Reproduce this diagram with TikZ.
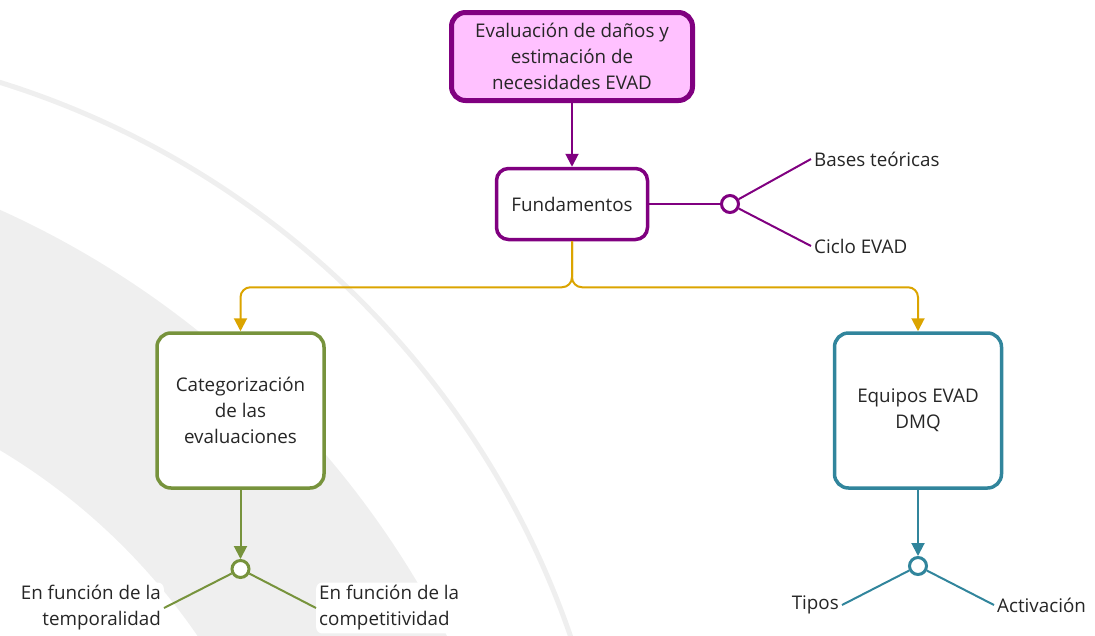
\documentclass[tikz,border=0pt]{standalone}
\usepackage{fontspec}
\setmainfont{Open Sans}
\usetikzlibrary{arrows.meta,positioning}
\definecolor{evadpurple}{HTML}{800080}
\definecolor{evadpink}{HTML}{FFC1FF}
\definecolor{linkgold}{HTML}{DBA400}
\definecolor{catgreen}{HTML}{77933C}
\definecolor{teamteal}{HTML}{31859C}
\definecolor{bandgrey}{HTML}{EFEFEF}
\definecolor{inkgrey}{HTML}{262626}

\begin{document}
\begin{tikzpicture}[x=1pt,y=-1pt,
  font=\fontsize{18.8}{26}\selectfont, text=inkgrey,
  box/.style={draw,rounded corners=14pt,line width=3.5pt,fill=white,align=center,inner sep=0pt},
  hub/.style={draw,circle,line width=3pt,fill=white,minimum size=17pt,inner sep=0pt},
  leaf/.style={fill=white,rounded corners=6pt,inner sep=3pt},
  link/.style={line width=2pt},
  tip/.style={-{Triangle[length=13pt,width=13pt]},line width=2pt}
]
\useasboundingbox (0,0) rectangle (1095,635);
% background band and arc
\begin{scope}
  \clip (0,0) rectangle (1095,635);
  \fill[bandgrey,even odd rule] (-382,1058) circle[radius=930pt] (-324,993) circle[radius=632pt];
  \draw[bandgrey,line width=5pt] (-261,922) circle[radius=879pt];
\end{scope}

\node[box,line width=5pt,draw=evadpurple,fill=evadpink,minimum width=241pt,minimum height=88pt] (evad) at (572,56.5) {Evaluación de daños y\\estimación de\\necesidades EVAD};
\node[box,rounded corners=12pt,draw=evadpurple,minimum width=151pt,minimum height=71pt] (fund) at (572,204) {Fundamentos};
\node[box,draw=catgreen,minimum width=167pt,minimum height=155pt] (cat) at (240.5,410.5) {Categorización\\de las\\evaluaciones};
\node[box,draw=teamteal,minimum width=167pt,minimum height=155pt] (team) at (918,410.5) {Equipos EVAD\\DMQ};

\node[hub,draw=evadpurple] (fundhub) at (730,204) {};
\node[hub,draw=catgreen] (cathub) at (240.5,569) {};
\node[hub,draw=teamteal] (teamhub) at (918,566) {};

\node[leaf,anchor=west] (bases) at (811,159) {Bases teóricas};
\node[leaf,anchor=west] (ciclo) at (811,246) {Ciclo EVAD};
\node[leaf,anchor=east,align=right] (tempo) at (164,608) {En función de la\\temporalidad};
\node[leaf,anchor=west,align=left] (compet) at (316,608) {En función de la\\competitividad};
\node[leaf,anchor=east] (tipos) at (842,605) {Tipos};
\node[leaf,anchor=west] (activ) at (994,605) {Activación};

\draw[tip,evadpurple] (evad) -- (fund);
\draw[link,evadpurple] (fund) -- (fundhub);
\draw[link,evadpurple] (fundhub) -- (bases.west);
\draw[link,evadpurple] (fundhub) -- (ciclo.west);
\draw[tip,linkgold,rounded corners=10pt] (fund.south) |- ([yshift=44pt]cat.north) -- (cat.north);
\draw[tip,linkgold,rounded corners=10pt] (fund.south) |- ([yshift=44pt]team.north) -- (team.north);
\draw[tip,catgreen] (cat) -- (cathub);
\draw[link,catgreen] (cathub) -- (tempo.east);
\draw[link,catgreen] (cathub) -- (compet.west);
\draw[tip,teamteal] (team) -- (teamhub);
\draw[link,teamteal] (teamhub) -- (tipos.east);
\draw[link,teamteal] (teamhub) -- (activ.west);
\end{tikzpicture}
\end{document}
